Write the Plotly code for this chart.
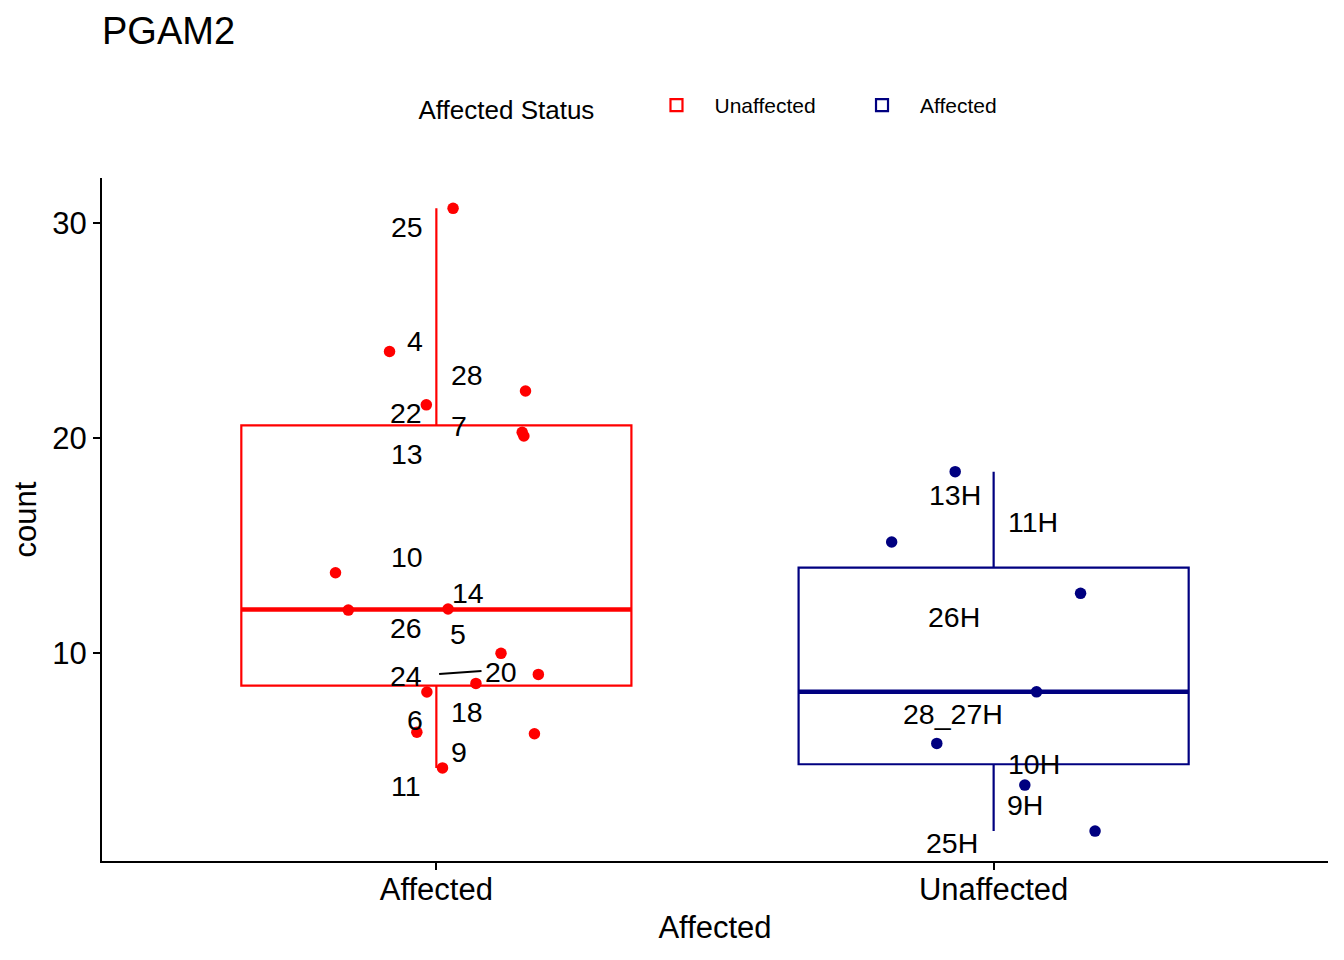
import numpy as np
import plotly.graph_objects as go

# groups on the x axis and how the legend names them
categories = ["Affected", "Unaffected"]
legend_names = ["Unaffected", "Affected"]
colors = ["#FF0000", "#000080"]

# counts, with the horizontal jitter of each point
affected_count = [30.70, 24.04, 21.56, 22.20, 20.28, 20.11, 13.75, 12.01,
                  12.06, 10.00, 9.02, 8.60, 8.20, 6.33, 6.26, 4.67]
affected_jitter = [0.030, -0.084, -0.018, 0.160, 0.154, 0.157, -0.181, -0.158,
                   0.021, 0.116, 0.183, 0.071, -0.017, -0.035, 0.176, 0.011]

unaffected_count = [18.45, 15.18, 12.79, 8.21, 5.81, 3.87, 1.73]
unaffected_jitter = [-0.069, -0.183, 0.156, 0.077, -0.102, 0.056, 0.182]

# repelled sample labels
affected_labels = ["25", "4", "28", "22", "7", "13", "10", "14",
                   "26", "5", "24", "20", "18", "6", "9", "11"]
affected_label_dx = [-0.053, -0.039, 0.055, -0.054, 0.040, -0.052, -0.052, 0.056,
                     -0.054, 0.038, -0.054, 0.116, 0.055, -0.039, 0.040, -0.054]
affected_label_y = [29.87, 24.57, 22.99, 21.18, 20.62, 19.31, 14.50, 12.83,
                    11.18, 10.94, 8.97, 9.15, 7.29, 6.90, 5.43, 3.83]

unaffected_labels = ["13H", "11H", "26H", "28_27H", "10H", "9H", "25H"]
unaffected_label_dx = [-0.070, 0.070, -0.071, -0.073, 0.073, 0.057, -0.074]
unaffected_label_y = [17.41, 16.11, 11.69, 7.18, 4.87, 2.97, 1.22]

# the one repel segment
segment_dx = [0.005, 0.081]
segment_y = [9.04, 9.18]

FONT = "Liberation Sans, Arial, sans-serif"
BOX_W = 0.7
NB = "\u00a0"

# the page puts the plot 8px in from the top-left corner
W, H = 1328, 944


def box_stats(vals):
    v = np.array(vals)
    q1, med, q3 = np.percentile(v, [25, 50, 75])
    iqr = q3 - q1
    lo = v[v >= q1 - 1.5 * iqr].min()
    hi = v[v <= q3 + 1.5 * iqr].max()
    return q1, med, q3, lo, hi


groups = [
    (affected_count, affected_jitter, affected_labels, affected_label_dx, affected_label_y),
    (unaffected_count, unaffected_jitter, unaffected_labels, unaffected_label_dx, unaffected_label_y),
]
legend_pad = [4, 2]

fig = go.Figure()

for i, (counts, jit, labs, ldx, ly) in enumerate(groups):
    pos = i + 1
    q1, med, q3, lo, hi = box_stats(counts)
    fig.add_trace(go.Box(
        x=[pos], q1=[q1], median=[med], q3=[q3], lowerfence=[lo], upperfence=[hi],
        width=BOX_W, whiskerwidth=0, boxpoints=False,
        line=dict(color=colors[i], width=2.2), fillcolor="rgba(255,255,255,0)",
        name=legend_names[i] + NB * legend_pad[i], showlegend=True, hoverinfo="skip"))
    # thicker median bar
    fig.add_trace(go.Scatter(
        x=[pos - BOX_W / 2, pos + BOX_W / 2], y=[med, med], mode="lines",
        line=dict(color=colors[i], width=4.5), showlegend=False, hoverinfo="skip"))

for i, (counts, jit, labs, ldx, ly) in enumerate(groups):
    pos = i + 1
    fig.add_trace(go.Scatter(
        x=[pos + d for d in jit], y=counts, mode="markers",
        marker=dict(color=colors[i], size=11.5, line=dict(width=0)),
        showlegend=False, hoverinfo="skip"))

fig.add_trace(go.Scatter(
    x=[1 + d for d in segment_dx], y=segment_y, mode="lines",
    line=dict(color="black", width=2), showlegend=False, hoverinfo="skip"))

for i, (counts, jit, labs, ldx, ly) in enumerate(groups):
    pos = i + 1
    for lab, d, yv in zip(labs, ldx, ly):
        fig.add_annotation(x=pos + d, y=yv, text=lab, showarrow=False,
                           xanchor="center", yanchor="middle", yshift=-0.5,
                           font=dict(family=FONT, size=28.5, color="black"))

fig.update_layout(
    width=W, height=H,
    paper_bgcolor="white", plot_bgcolor="white",
    font=dict(family=FONT, color="black"),
    margin=dict(l=94, r=8, t=170, b=91),
    title=dict(text="PGAM2", x=0, xref="paper", xanchor="left",
               y=1 - 23 / H, yref="container", yanchor="middle",
               font=dict(size=38, color="black")),
    legend=dict(orientation="h", x=0.5, xanchor="center", y=1.104, yanchor="middle",
                title=dict(text="Affected Status" + NB * 5, font=dict(size=26)),
                font=dict(size=21), itemwidth=66, bgcolor="rgba(0,0,0,0)"),
    showlegend=True,
)

fig.update_xaxes(
    range=[0.4, 2.6], tickvals=[1, 2], ticktext=categories,
    showline=True, linecolor="black", linewidth=2, mirror=False,
    ticks="outside", ticklen=7, tickwidth=2, tickcolor="black",
    showgrid=False, zeroline=False, ticklabelstandoff=-7,
    tickfont=dict(size=31, color="black"),
    title=dict(text="Affected", font=dict(size=31), standoff=10))

fig.update_yaxes(
    range=[0.34, 32.11], tickvals=[10, 20, 30],
    showline=True, linecolor="black", linewidth=2, mirror=False,
    ticks="outside", ticklen=7, tickwidth=2, tickcolor="black",
    showgrid=False, zeroline=False,
    tickfont=dict(size=31, color="black"),
    title=dict(text="count", font=dict(size=31), standoff=7))

fig.write_html("out.html")
